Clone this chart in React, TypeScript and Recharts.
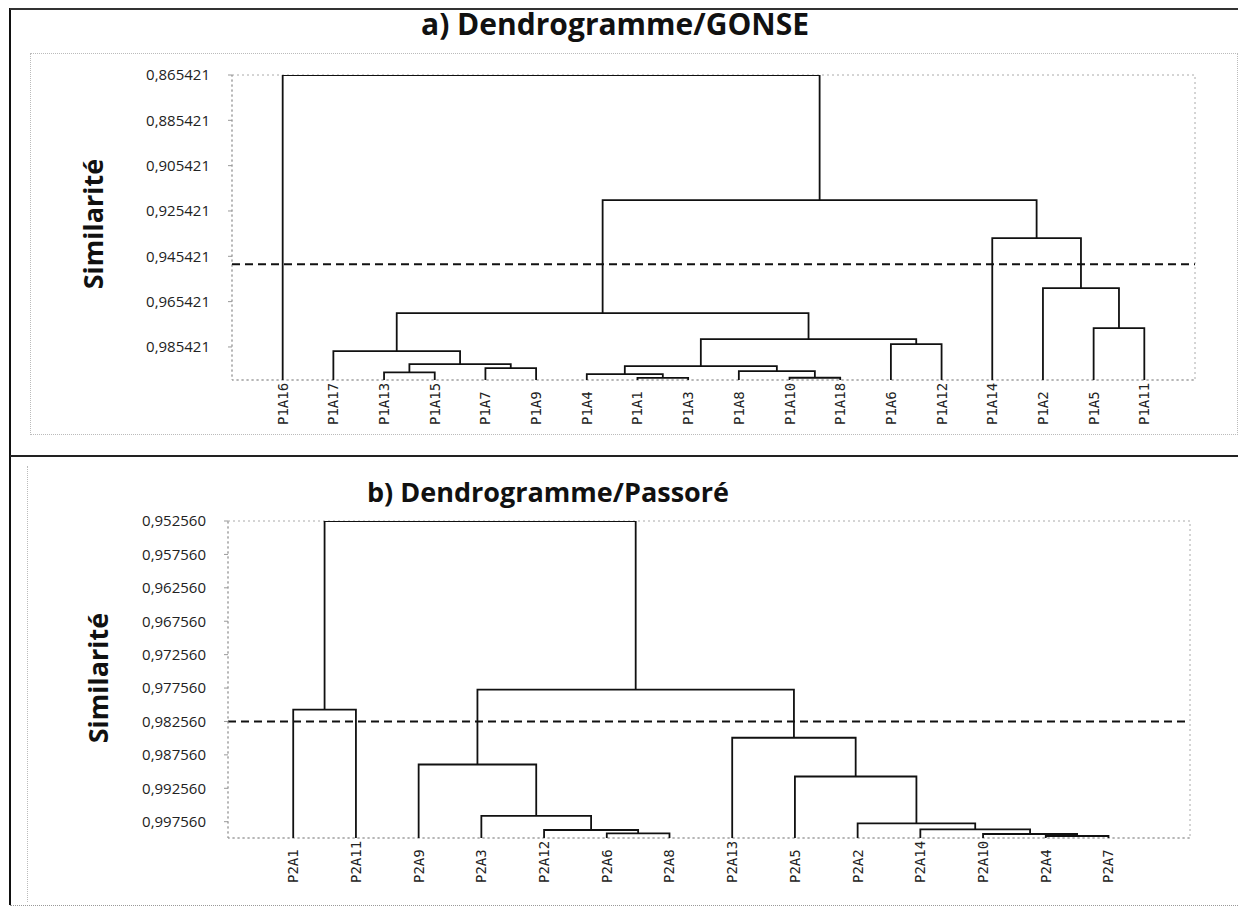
import { ScatterChart, Scatter, XAxis, YAxis, ReferenceLine, ReferenceArea } from 'recharts'

// a) GONSE
const gonseLeaves = ['P1A16', 'P1A17', 'P1A13', 'P1A15', 'P1A7', 'P1A9', 'P1A4', 'P1A1', 'P1A3', 'P1A8', 'P1A10', 'P1A18', 'P1A6', 'P1A12', 'P1A14', 'P1A2', 'P1A5', 'P1A11']
// [left, right, similarity]; cN = result of merge N
const gonseMerges: [string, string, number][] = [
  ['P1A1', 'P1A3', 0.9991],
  ['P1A10', 'P1A18', 0.999],
  ['P1A4', 'c0', 0.9974],
  ['P1A13', 'P1A15', 0.9966],
  ['P1A8', 'c1', 0.9961],
  ['P1A7', 'P1A9', 0.9948],
  ['c2', 'c4', 0.9939],
  ['c3', 'c5', 0.993],
  ['P1A17', 'c7', 0.9873],
  ['P1A6', 'P1A12', 0.9842],
  ['c6', 'c9', 0.982],
  ['P1A5', 'P1A11', 0.9771],
  ['c8', 'c10', 0.9705],
  ['P1A2', 'c11', 0.9595],
  ['P1A14', 'c13', 0.9374],
  ['c12', 'c14', 0.9206],
  ['P1A16', 'c15', 0.865421],
]
const gonseTicks = [0.865421, 0.885421, 0.905421, 0.925421, 0.945421, 0.965421, 0.985421]
const gonseCut = 0.9489

// b) Passoré
const passoreLeaves = ['P2A1', 'P2A11', 'P2A9', 'P2A3', 'P2A12', 'P2A6', 'P2A8', 'P2A13', 'P2A5', 'P2A2', 'P2A14', 'P2A10', 'P2A4', 'P2A7']
const passoreMerges: [string, string, number][] = [
  ['P2A4', 'P2A7', 0.9997],
  ['P2A10', 'c0', 0.9994],
  ['P2A6', 'P2A8', 0.9993],
  ['P2A12', 'c2', 0.9988],
  ['P2A14', 'c1', 0.9987],
  ['P2A2', 'c4', 0.9978],
  ['P2A3', 'c3', 0.9967],
  ['P2A5', 'c5', 0.9908],
  ['P2A9', 'c6', 0.989],
  ['P2A13', 'c7', 0.985],
  ['P2A1', 'P2A11', 0.9808],
  ['c8', 'c9', 0.9778],
  ['c10', 'c11', 0.95256],
]
const passoreTicks = [0.95256, 0.95756, 0.96256, 0.96756, 0.97256, 0.97756, 0.98256, 0.98756, 0.99256, 0.99756]
const passoreCut = 0.98256

type Pt = { x: number; y: number }

function buildLinks(leaves: string[], merges: [string, string, number][]) {
  const pos: Record<string, Pt> = {}
  leaves.forEach((n, i) => (pos[n] = { x: i, y: 1 }))
  return merges.map(([a, b, h], i) => {
    const pa = pos[a]
    const pb = pos[b]
    pos['c' + i] = { x: (pa.x + pb.x) / 2, y: h }
    return [
      { x: pa.x, y: pa.y },
      { x: pa.x, y: h },
      { x: pb.x, y: h },
      { x: pb.x, y: pb.y },
    ]
  })
}

const fmt = (v: number) => v.toFixed(6).replace('.', ',')

function LeafTick(props: any) {
  const { x, y, payload, leaves } = props
  return (
    <g transform={`translate(${x + 5},${y + 45})`}>
      <text transform="rotate(-90)" textAnchor="start" fontFamily="DejaVu Sans Mono" fontSize={14} fill="#222">
        {leaves[payload.value]}
      </text>
    </g>
  )
}

function Dendro(props: {
  leaves: string[]
  merges: [string, string, number][]
  ticks: number[]
  cut: number
  xDomain: [number, number]
  yAxisWidth: number
  top: number
  right: number
  xAxisHeight: number
}) {
  const { leaves, merges, ticks, cut, xDomain, yAxisWidth, top, right, xAxisHeight } = props
  const links = buildLinks(leaves, merges)
  const yMin = ticks[0]
  return (
    <ScatterChart width={1230} height={440} margin={{ top, right, bottom: 0, left: 0 }}>
      <XAxis
        type="number"
        dataKey="x"
        domain={xDomain}
        ticks={leaves.map((_, i) => i)}
        interval={0}
        allowDataOverflow
        height={xAxisHeight}
        tickLine={false}
        tickSize={0}
        tickMargin={0}
        axisLine={{ stroke: '#999', strokeDasharray: '2 3' }}
        tick={<LeafTick leaves={leaves} />}
      />
      <YAxis
        type="number"
        dataKey="y"
        domain={[yMin, 1]}
        reversed
        allowDataOverflow
        ticks={ticks}
        interval={0}
        width={yAxisWidth}
        tickFormatter={fmt}
        tickSize={4}
        tickMargin={18}
        tickLine={{ stroke: '#999' }}
        axisLine={{ stroke: '#999', strokeDasharray: '2 3' }}
        tick={{ fontFamily: 'Open Sans', fontSize: 15, fill: '#222' }}
      />
      <ReferenceArea x1={xDomain[0]} x2={xDomain[1]} y1={yMin} y2={1} fill="none" stroke="#aaa" strokeDasharray="2 3" ifOverflow="visible" />
      {links.map((pts, i) => (
        <Scatter
          key={i}
          data={pts}
          line={{ stroke: '#111', strokeWidth: 1.8 }}
          lineType="joint"
          shape={() => <g />}
          legendType="none"
          isAnimationActive={false}
        />
      ))}
      <ReferenceLine y={cut} stroke="#111" strokeWidth={2} strokeDasharray="8 5" ifOverflow="visible" />
    </ScatterChart>
  )
}

const abs = (s: React.CSSProperties): React.CSSProperties => ({ position: 'absolute', ...s })

export default function App() {
  const titleStyle: React.CSSProperties = {
    fontFamily: 'Open Sans',
    fontWeight: 700,
    color: '#111',
    whiteSpace: 'nowrap',
    transform: 'translate(-50%, -50%)',
  }
  const yLabel: React.CSSProperties = {
    fontFamily: 'Open Sans',
    fontWeight: 700,
    fontSize: 27,
    color: '#111',
    whiteSpace: 'nowrap',
    transform: 'translate(-50%, -50%) rotate(-90deg)',
  }
  return (
    <div style={{ position: 'relative', width: 1230, height: 900, background: '#fff' }}>
      {/* frames */}
      <div style={abs({ left: 1, top: 0, width: 2, height: 897, background: '#111' })} />
      <div style={abs({ left: 2, top: 0, width: 1230, height: 1.5, background: '#333' })} />
      <div style={abs({ left: 2, top: 447, width: 1230, height: 1.5, background: '#222' })} />
      <div style={abs({ left: 1231, top: 0, width: 0, height: 897, borderLeft: '1px dotted #777' })} />
      <div style={abs({ left: 2, top: 897, width: 1230, height: 0, borderTop: '1px dotted #999' })} />
      <div style={abs({ left: 22, top: 45, width: 1206, height: 380, border: '1px dotted #bbb' })} />
      <div style={abs({ left: 19, top: 458, width: 1208, height: 436, borderLeft: '1px dotted #bbb' })} />

      <div style={abs({ left: 0, top: 0 })}>
        <Dendro
          leaves={gonseLeaves}
          merges={gonseMerges}
          ticks={gonseTicks}
          cut={gonseCut}
          xDomain={[-1, 18]}
          yAxisWidth={224}
          top={67}
          right={43}
          xAxisHeight={68}
        />
      </div>
      <div style={abs({ left: 0, top: 452 })}>
        <Dendro
          leaves={passoreLeaves}
          merges={passoreMerges}
          ticks={passoreTicks}
          cut={passoreCut}
          xDomain={[-1.04, 14.3]}
          yAxisWidth={220}
          top={61}
          right={48}
          xAxisHeight={62}
        />
      </div>

      <div style={abs({ left: 607, top: 15, fontSize: 30, ...titleStyle })}>a) Dendrogramme/GONSE</div>
      <div style={abs({ left: 540, top: 483, fontSize: 27, ...titleStyle })}>b) Dendrogramme/Passoré</div>
      <div style={abs({ left: 84, top: 216, ...yLabel })}>Similarité</div>
      <div style={abs({ left: 89, top: 670, ...yLabel })}>Similarité</div>
    </div>
  )
}
